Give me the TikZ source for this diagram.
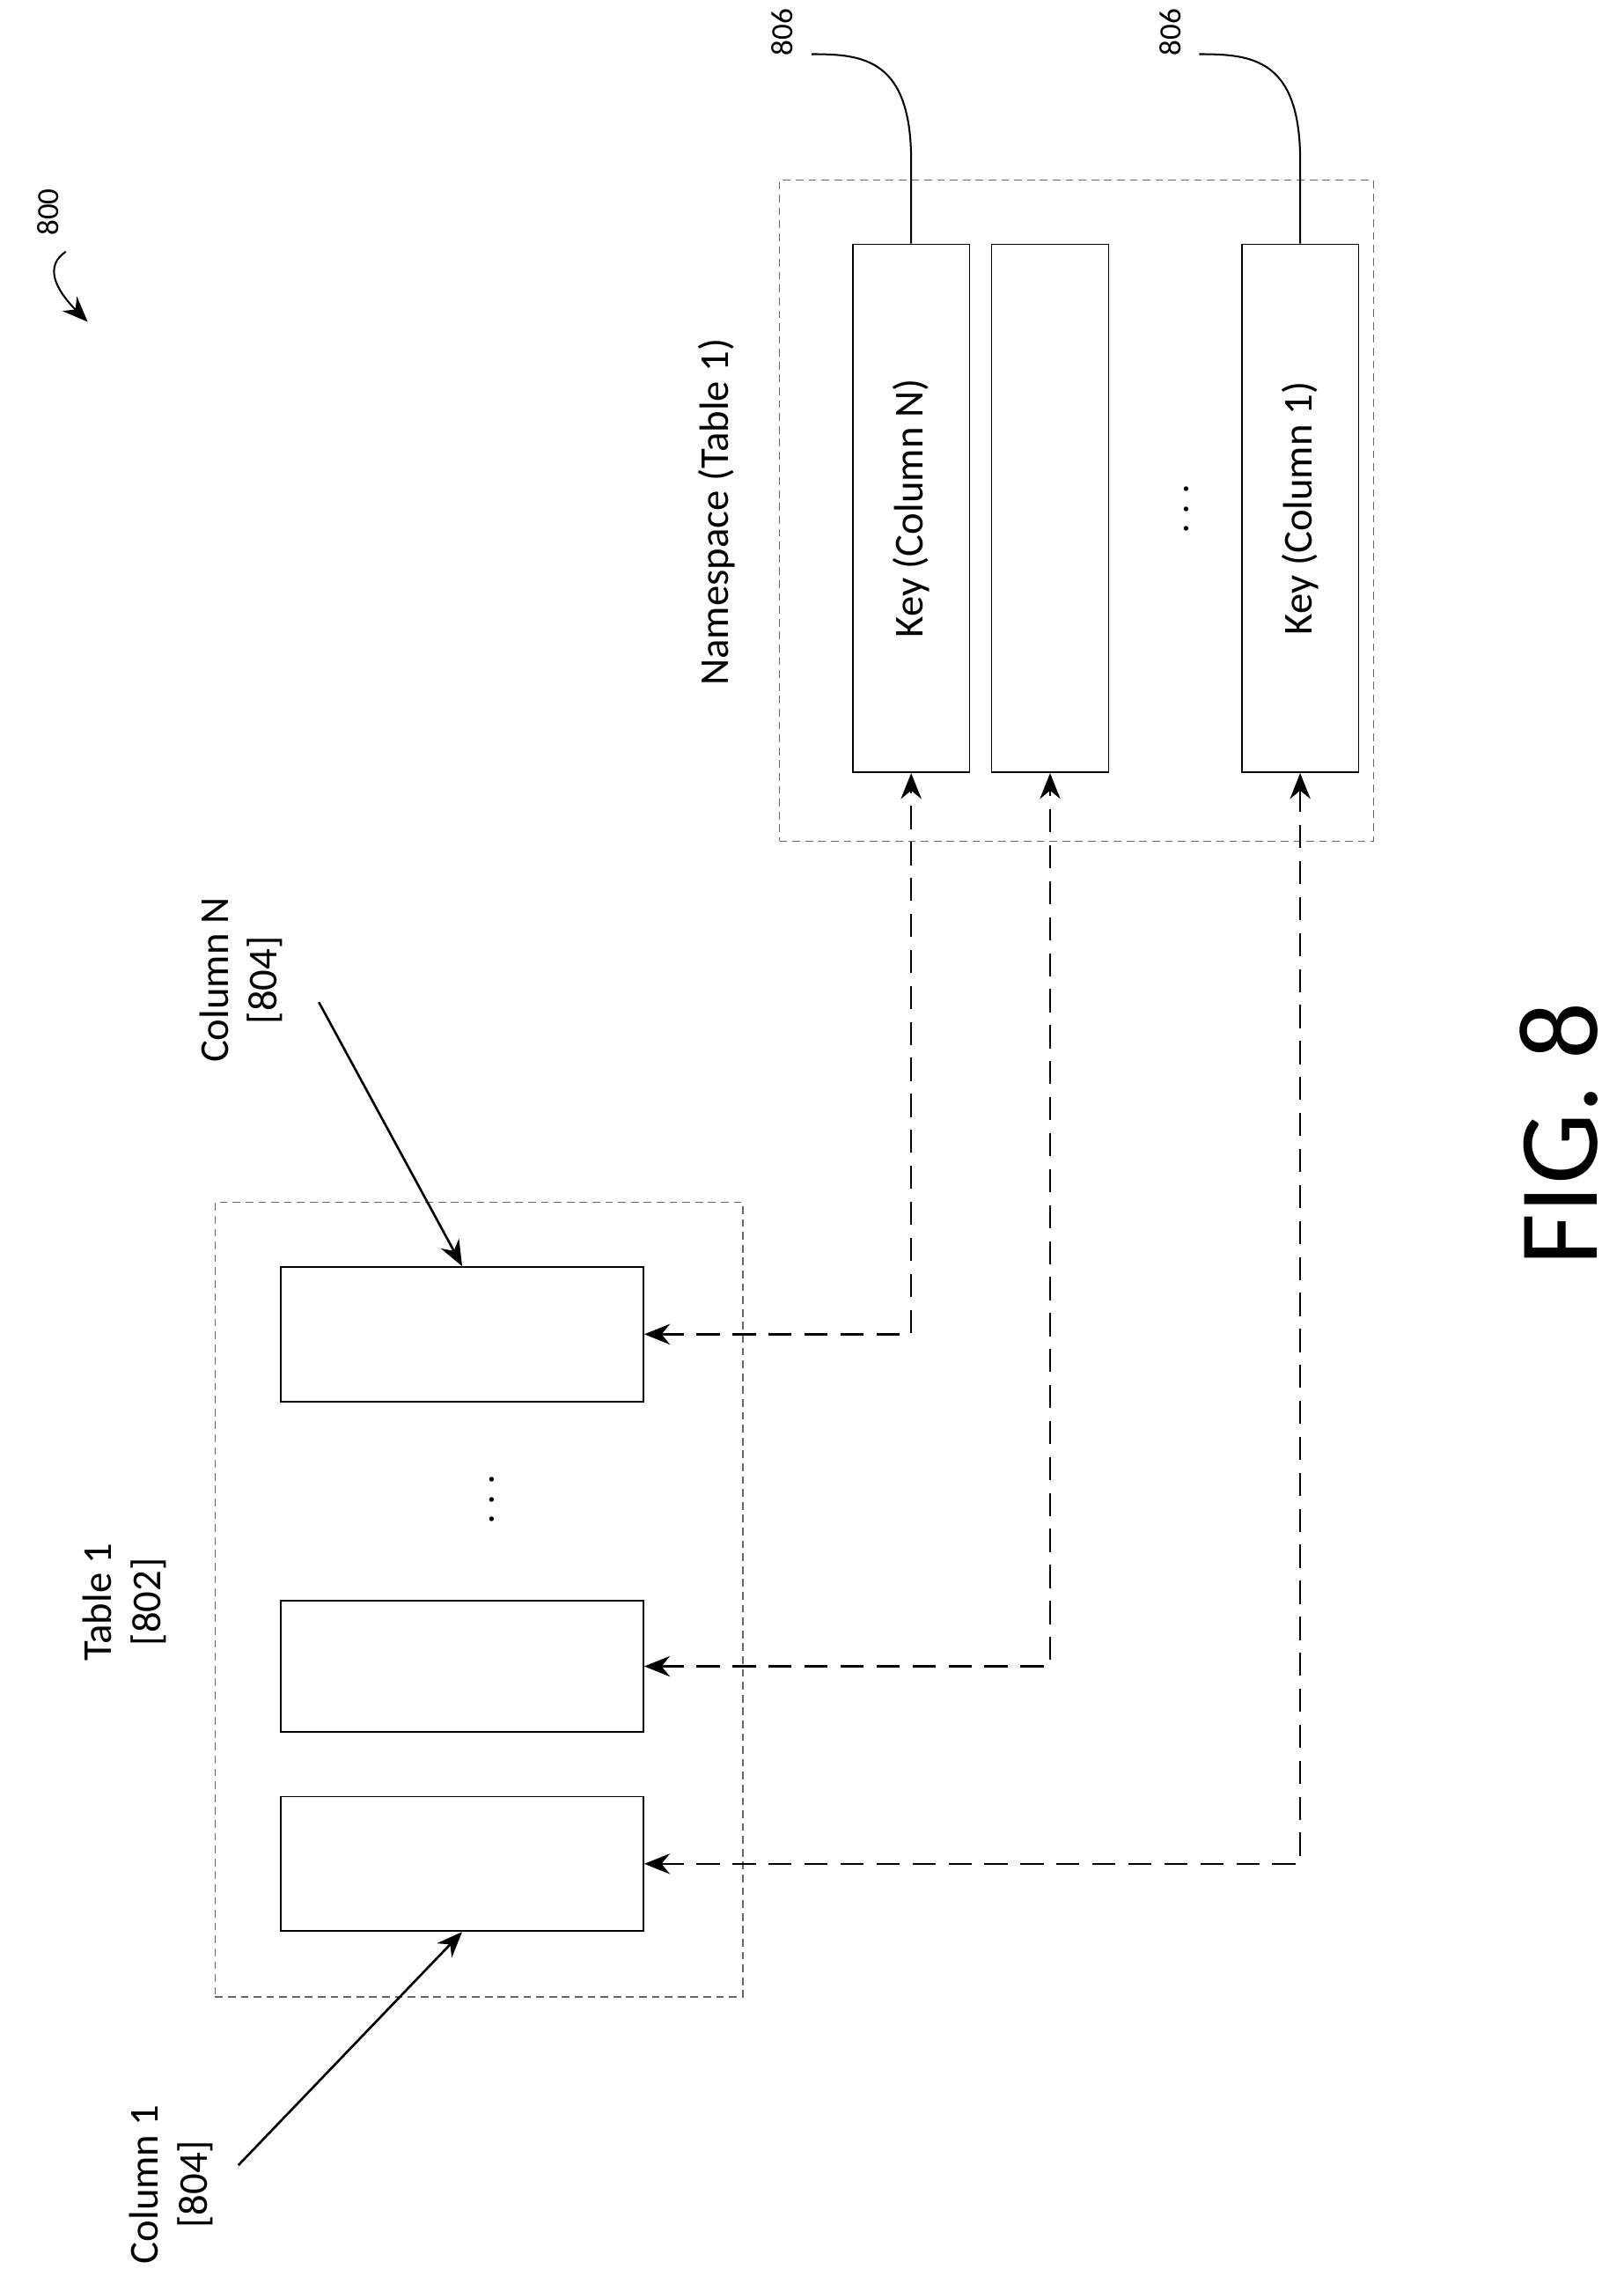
\documentclass[tikz,border=0pt]{standalone}
\usepackage{fontspec}
\setmainfont{Carlito}
\usetikzlibrary{arrows.meta,positioning}
\tikzset{col box/.style={rectangle,draw,line width=0.6pt,minimum width=4.96cm,minimum height=1.84cm,inner sep=0pt},
         key box/.style={rectangle,draw,line width=0.6pt,minimum width=1.6cm,minimum height=7.22cm,inner sep=0pt},
         frame box/.style={rectangle,draw=black!60,densely dashed,line width=0.4pt,inner sep=0pt},
         lbl/.style={rotate=90,font=\fontsize{16}{19}\selectfont,align=center,inner sep=0pt},
         ref/.style={rotate=90,font=\fontsize{12}{14}\selectfont,inner sep=0pt},
         link/.style={{Stealth[length=10pt,width=8pt]}-{Stealth[length=10pt,width=8pt]},dash pattern=on 9pt off 5pt,line width=0.9pt}
}
\begin{document}
\begin{tikzpicture}[x=0.02cm,y=-0.02cm,>={Stealth[length=10pt,width=8pt]}]
\useasboundingbox (0,0) rectangle (1110,1566);
% table side
\node[frame box,minimum width=7.22cm,minimum height=10.86cm] (tframe) at (327.5,1093.5) {};
\node[col box] (colN) at (316,912) {};
\node[col box,minimum height=1.8cm] (col2) at (316,1139) {};
\node[col box] (col1) at (316,1274) {};
\node[lbl] (tdots) at (337,1025) {$\cdots$};
\node[lbl] (tlabel) at (85,1095) {Table 1\\{}[802]};
\node[lbl] (cNlabel) at (165,670) {Column N\\{}[804]};
\node[lbl] (c1label) at (117,1493) {Column 1\\{}[804]};
\draw[->,line width=0.9pt] (218,685) -- (colN.north);
\draw[->,line width=0.9pt] (163,1480) -- (col1.south);
% namespace side
\node[frame box,minimum width=8.12cm,minimum height=9.04cm] (nframe) at (736,349) {};
\node[key box] (keyN) at (623,347.5) {};
\node[key box] (key2) at (718,347.5) {};
\node[key box] (key1) at (889,347.5) {};
\node[lbl] at (keyN) {Key (Column N)};
\node[lbl] at (key1) {Key (Column 1)};
\node[lbl] (ndots) at (812,348) {$\cdots$};
\node[lbl] (nlabel) at (490,350) {Namespace (Table 1)};
% links
\draw[link] (colN.east) -| (keyN.south);
\draw[link] (col2.east) -| (key2.south);
\draw[link] (col1.east) -| (key1.south);
% reference numerals
\node[ref] (r806a) at (535,22) {806};
\node[ref] (r806b) at (800,22) {806};
\draw[line width=0.7pt] (keyN.north) -- (623,110) .. controls (623,40) and (590,37) .. (555,37);
\draw[line width=0.7pt] (key1.north) -- (889,110) .. controls (889,40) and (856,37) .. (820,37);
\node[ref] (r800) at (33,145) {800};
\draw[->,line width=0.7pt] (45,172) .. controls (30,182) and (38,198) .. (60,220);
\node[rotate=90,font=\fontsize{44}{52}\selectfont,inner sep=0pt] (fig) at (1066,775) {FIG. 8};
\end{tikzpicture}
\end{document}
